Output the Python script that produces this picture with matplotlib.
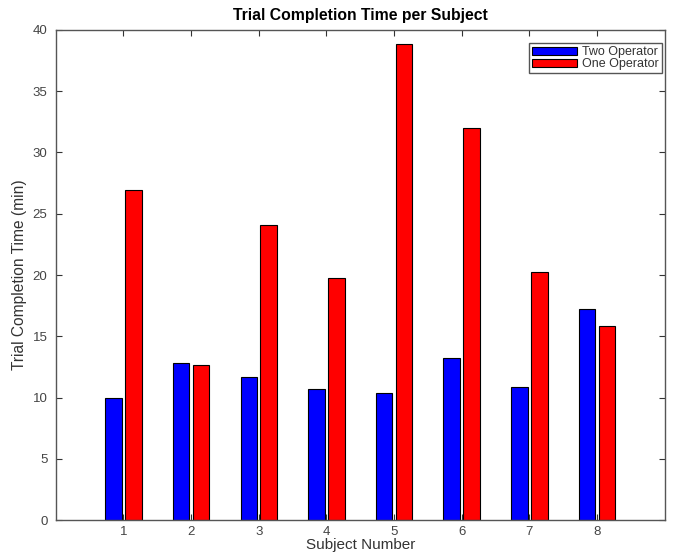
import numpy as np
import matplotlib.pyplot as plt

plt.rcParams['font.family'] = ['Liberation Sans', 'DejaVu Sans']

subjects = [1, 2, 3, 4, 5, 6, 7, 8]
two_op = [10.0, 12.85, 11.7, 10.7, 10.4, 13.2, 10.85, 17.2]
one_op = [26.9, 12.7, 24.1, 19.8, 38.85, 32.0, 20.25, 15.85]

fig = plt.figure(figsize=(6.81, 5.54), dpi=100)
ax = fig.add_axes([0.082, 0.061, 0.894, 0.885])

x = np.array(subjects)
w = 0.245
off = 0.147
ax.bar(x - off, two_op, w, color='#0000ff', edgecolor='black', linewidth=0.8, label='Two Operator')
ax.bar(x + off, one_op, w, color='#ff0000', edgecolor='black', linewidth=0.8, label='One Operator')

ax.set_xlim(0, 9)
ax.set_ylim(0, 40)
ax.set_xticks(subjects)
ax.set_yticks(np.arange(0, 41, 5))
ax.tick_params(direction='in', top=True, right=True, labelsize=9.5, length=4,
               color='#333333', labelcolor='#444444')
ax.tick_params(axis='y', pad=6)
ax.tick_params(axis='x', pad=4)
for s in ax.spines.values():
    s.set_color('#555555')
    s.set_linewidth(1.0)

ax.set_title('Trial Completion Time per Subject', fontsize=11.3, fontweight='bold', pad=7)
ax.set_xlabel('Subject Number', fontsize=11, labelpad=0, color='#333333')
ax.set_ylabel('Trial Completion Time (min)', fontsize=11.2, labelpad=4, color='#333333')

leg = ax.legend(loc='upper right', bbox_to_anchor=(0.995, 0.973), borderaxespad=0,
                fontsize=9, fancybox=False, framealpha=1,
                edgecolor='#555555', handlelength=3.6, handleheight=0.65,
                handletextpad=0.35, labelspacing=0.0, borderpad=0.25)
leg.get_frame().set_linewidth(1.0)
for t in leg.get_texts():
    t.set_color('#333333')

fig.savefig('out.png', dpi=100, facecolor='white')
